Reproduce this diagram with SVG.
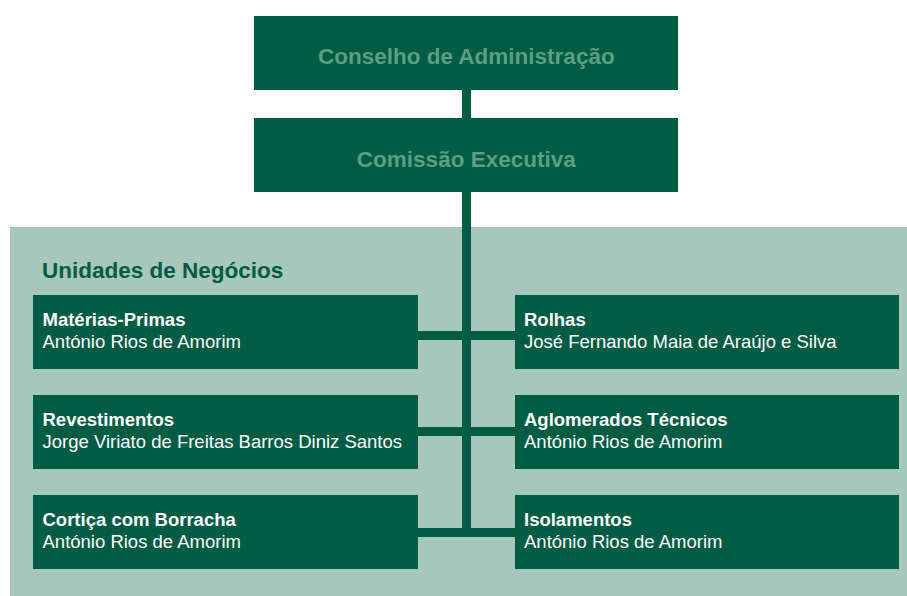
<svg xmlns="http://www.w3.org/2000/svg" width="907" height="596" viewBox="0 0 907 596">
  <style>
    .box { fill: #005c42; }
    .conn { fill: #005c42; }
    .top { font-family: "Liberation Sans", Arial, sans-serif; font-weight: bold; font-size: 22.5px; fill: #5c9f84; text-anchor: middle; }
    .head { font-family: "Liberation Sans", Arial, sans-serif; font-weight: bold; font-size: 22.5px; fill: #005c42; }
    .t { font-family: "Liberation Sans", Arial, sans-serif; font-weight: bold; font-size: 18.5px; fill: #ffffff; }
    .n { font-family: "Liberation Sans", Arial, sans-serif; font-size: 18.5px; fill: #ffffff; }
  </style>
  <rect x="0" y="0" width="907" height="596" fill="#ffffff"/>
  <rect id="panel" x="10" y="227" width="897" height="369" fill="#a7c6bc"/>
  <text class="head" x="42" y="278.3">Unidades de Negócios</text>

  <g id="connectors">
    <rect class="conn" x="462" y="90" width="9" height="447"/>
    <rect class="conn" x="418" y="331" width="97" height="9"/>
    <rect class="conn" x="418" y="427" width="97" height="9"/>
    <rect class="conn" x="418" y="528" width="97" height="9"/>
  </g>

  <g id="conselho">
    <rect class="box" x="254" y="16" width="424" height="74"/>
    <text class="top" x="466.3" y="63.5">Conselho de Administração</text>
  </g>
  <g id="comissao">
    <rect class="box" x="254" y="118" width="424" height="74"/>
    <text class="top" x="466.3" y="166.5">Comissão Executiva</text>
  </g>

  <g id="materias">
    <rect class="box" x="33" y="295" width="385" height="74"/>
    <text class="t" x="42.5" y="326">Matérias-Primas</text>
    <text class="n" x="42.5" y="347.5">António Rios de Amorim</text>
  </g>
  <g id="rolhas">
    <rect class="box" x="515" y="295" width="384" height="74"/>
    <text class="t" x="524" y="326">Rolhas</text>
    <text class="n" x="524" y="347.5">José Fernando Maia de Araújo e Silva</text>
  </g>
  <g id="revestimentos">
    <rect class="box" x="33" y="395" width="385" height="74"/>
    <text class="t" x="42.5" y="426">Revestimentos</text>
    <text class="n" x="42.5" y="447.5">Jorge Viriato de Freitas Barros Diniz Santos</text>
  </g>
  <g id="aglomerados">
    <rect class="box" x="515" y="395" width="384" height="74"/>
    <text class="t" x="524" y="426">Aglomerados Técnicos</text>
    <text class="n" x="524" y="447.5">António Rios de Amorim</text>
  </g>
  <g id="cortica">
    <rect class="box" x="33" y="495" width="385" height="74"/>
    <text class="t" x="42.5" y="526">Cortiça com Borracha</text>
    <text class="n" x="42.5" y="547.5">António Rios de Amorim</text>
  </g>
  <g id="isolamentos">
    <rect class="box" x="515" y="495" width="384" height="74"/>
    <text class="t" x="524" y="526">Isolamentos</text>
    <text class="n" x="524" y="547.5">António Rios de Amorim</text>
  </g>
</svg>
